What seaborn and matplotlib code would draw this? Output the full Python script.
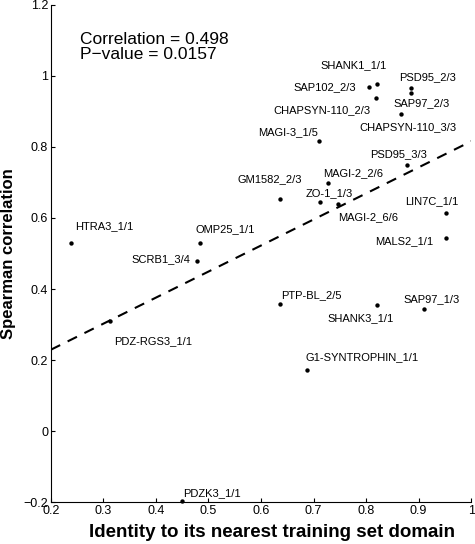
import pandas as pd
import seaborn as sns
import matplotlib.pyplot as plt

# Domain names with identity to nearest training domain and Spearman correlation
names = ['SHANK1_1/1', 'SAP102_2/3', 'CHAPSYN-110_2/3', 'PSD95_2/3', 'SAP97_2/3',
         'CHAPSYN-110_3/3', 'MAGI-3_1/5', 'PSD95_3/3', 'MAGI-2_2/6', 'GM1582_2/3',
         'ZO-1_1/3', 'MAGI-2_6/6', 'LIN7C_1/1', 'MALS2_1/1', 'HTRA3_1/1',
         'OMP25_1/1', 'SCRB1_3/4', 'PTP-BL_2/5', 'SHANK3_1/1', 'SAP97_1/3',
         'PDZ-RGS3_1/1', 'G1-SYNTROPHIN_1/1', 'PDZK3_1/1']
identity = [0.821, 0.806, 0.819, 0.886, 0.886,
            0.867, 0.710, 0.878, 0.728, 0.636,
            0.712, 0.747, 0.952, 0.952, 0.238,
            0.484, 0.478, 0.636, 0.821, 0.910,
            0.312, 0.688, 0.450]
spearman = [0.977, 0.969, 0.938, 0.966, 0.952,
            0.893, 0.817, 0.749, 0.699, 0.654,
            0.645, 0.639, 0.614, 0.544, 0.530,
            0.530, 0.479, 0.358, 0.355, 0.344,
            0.310, 0.172, -0.197]

x_ticks = [0.2, 0.3, 0.4, 0.5, 0.6, 0.7, 0.8, 0.9, 1]
x_tick_labels = ['0.2', '0.3', '0.4', '0.5', '0.6', '0.7', '0.8', '0.9', '1']
y_ticks = [-0.2, 0, 0.2, 0.4, 0.6, 0.8, 1, 1.2]
y_tick_labels = ['\u22120.2', '0', '0.2', '0.4', '0.6', '0.8', '1', '1.2']

# label offsets in pixels (dx, dy) and horizontal alignment
label_offsets = {
    'SHANK1_1/1': (-24, 19, 'center'), 'SAP102_2/3': (-13, 0, 'right'),
    'CHAPSYN-110_2/3': (-54, -12, 'center'), 'PSD95_2/3': (16, 11, 'center'),
    'SAP97_2/3': (10, -10, 'center'), 'CHAPSYN-110_3/3': (7, -13, 'center'),
    'MAGI-3_1/5': (-31, 9, 'center'), 'PSD95_3/3': (-9, 11, 'center'),
    'MAGI-2_2/6': (25, 10, 'center'), 'GM1582_2/3': (-10, 20, 'center'),
    'ZO-1_1/3': (9, 9, 'center'), 'MAGI-2_6/6': (30, -13, 'center'),
    'LIN7C_1/1': (-14, 12, 'center'), 'MALS2_1/1': (-13, -3, 'right'),
    'HTRA3_1/1': (33, 17, 'center'), 'OMP25_1/1': (25, 14, 'center'),
    'SCRB1_3/4': (-7, 2, 'right'), 'PTP-BL_2/5': (31, 9, 'center'),
    'SHANK3_1/1': (-17, -13, 'center'), 'SAP97_1/3': (8, 10, 'center'),
    'PDZ-RGS3_1/1': (43, -20, 'center'), 'G1-SYNTROPHIN_1/1': (55, 13, 'center'),
    'PDZK3_1/1': (30, 8, 'center'),
}

df = pd.DataFrame({'name': names, 'identity': identity, 'spearman': spearman})

sns.set_style('ticks')
plt.rcParams['font.family'] = ['Liberation Sans', 'DejaVu Sans']
plt.rcParams['text.color'] = 'black'
plt.rcParams['axes.labelcolor'] = 'black'
plt.rcParams['xtick.color'] = 'black'
plt.rcParams['ytick.color'] = 'black'

fig = plt.figure(figsize=(4.75, 5.44), dpi=100)
ax = fig.add_axes([0.107, 0.077, 0.885, 0.914])
ax.set_xlim(0.2, 1)
ax.set_ylim(-0.2, 1.2)

# Least squares fit line, dashed
sns.regplot(data=df, x='identity', y='spearman', scatter=False, ci=None,
            truncate=False, ax=ax,
            line_kws={'color': 'black', 'linestyle': (0, (5, 4)), 'linewidth': 1.5})
sns.scatterplot(data=df, x='identity', y='spearman', color='black', s=10,
                edgecolor='black', linewidth=0, ax=ax, clip_on=False, zorder=3)

# Point labels (offsets converted from pixels to points)
for _, row in df.iterrows():
    dx, dy, ha = label_offsets[row['name']]
    ax.annotate(row['name'], (row['identity'], row['spearman']),
                xytext=(dx * 0.72, dy * 0.72), textcoords='offset points',
                ha=ha, va='center', fontsize=8)

ax.text(0.069, 0.915, 'Correlation = 0.498\nP\u2212value = 0.0157',
        transform=ax.transAxes, fontsize=12.5, va='center', linespacing=1.05)

ax.set_xticks(x_ticks)
ax.set_xticklabels(x_tick_labels)
ax.set_yticks(y_ticks)
ax.set_yticklabels(y_tick_labels)
ax.tick_params(direction='in', length=3, width=0.8, labelsize=9, pad=2)
ax.set_xlabel('Identity to its nearest training set domain', fontsize=13.5,
              fontweight='bold')
ax.set_ylabel('Spearman correlation', fontsize=12, fontweight='bold')
ax.xaxis.set_label_coords(0.525, -0.044)
ax.yaxis.set_label_coords(-0.082, 0.5)

sns.despine(ax=ax)
for side in ['left', 'bottom']:
    ax.spines[side].set_linewidth(0.8)
    ax.spines[side].set_color('black')

fig.savefig('out.png', dpi=100)
